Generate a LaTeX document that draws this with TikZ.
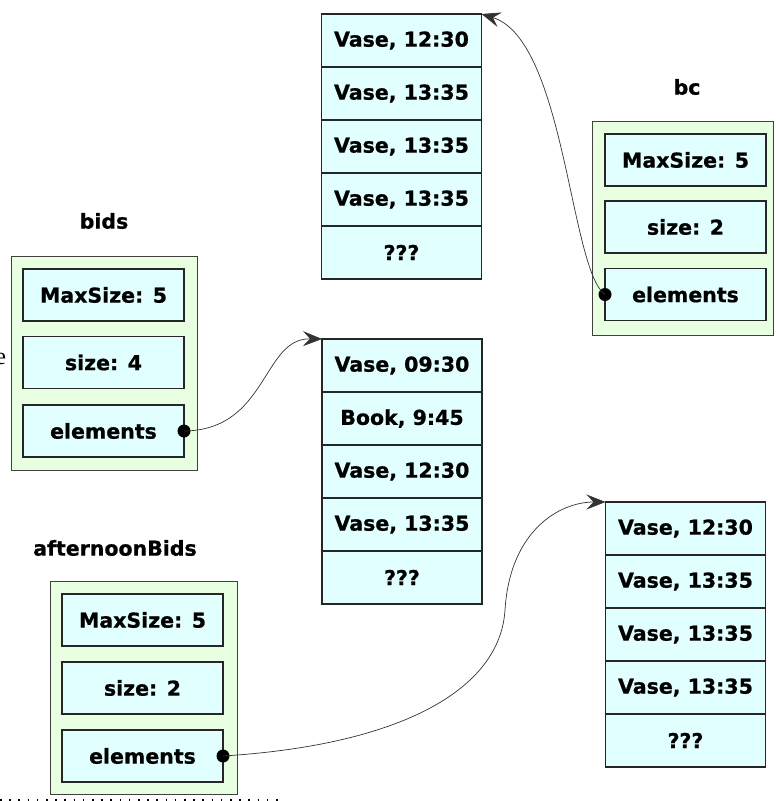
\documentclass[tikz,border=0pt]{standalone}
\usepackage{fontspec}
\setmainfont{DejaVu Sans}[BoldFeatures={FakeBold=0.8}]
\newfontfamily\timesfont{Liberation Serif}
\usetikzlibrary{arrows.meta}
\definecolor{objfill}{RGB}{232,255,226}
\definecolor{cellfill}{RGB}{226,255,255}
\tikzset{
  every node/.style={inner sep=0pt, outer sep=0pt},
  cell/.style={draw=black!85, line width=1.1pt, fill=cellfill,
    minimum width=160pt, minimum height=53pt,
    font=\fontsize{20.5}{24}\selectfont\bfseries},
  field/.style={cell, minimum width=161pt, minimum height=52pt},
  objbox/.style={draw=black!75, line width=1pt, fill=objfill},
  title/.style={font=\fontsize{20.5}{24}\selectfont\bfseries},
  ref/.style={line width=0.7pt, draw=black!80,
    -{Stealth[length=19pt,width=15pt,inset=7pt]}},
  refdot/.style={circle, fill=black, minimum size=13pt},
}
\begin{document}
\begin{tikzpicture}[x=1pt,y=-1pt]
\useasboundingbox (0,0) rectangle (776,801);

% partially visible word at the left margin
\node[anchor=east, font=\timesfont\fontsize{24}{28}\selectfont] (margintext) at (6,359) {e};

% ---- object: bids ----
\node[title] (bidsname) at (104,221) {bids};
\node[objbox, minimum width=186pt, minimum height=214pt] (bidsobj) at (104,363) {};
\node[field] (bmax)  at (103.5,295)   {MaxSize: 5};
\node[field] (bsize) at (103.5,362.5) {size: 4};
\node[field] (belem) at (103.5,431)   {elements};

% ---- object: bc ----
\node[title] (bcname) at (687,87) {bc};
\node[objbox, minimum width=181pt, minimum height=214pt] (bcobj) at (682.5,228) {};
\node[field] (cmax)  at (685.5,160)   {MaxSize: 5};
\node[field] (csize) at (685.5,227)   {size: 2};
\node[field] (celem) at (685.5,294.5) {elements};

% ---- object: afternoonBids ----
\node[title] (aname) at (115,548) {afternoonBids};
\node[objbox, minimum width=187pt, minimum height=213pt] (aobj) at (143.5,687.5) {};
\node[field] (amax)  at (142.5,620) {MaxSize: 5};
\node[field] (asize) at (142.5,688) {size: 2};
\node[field] (aelem) at (142.5,756) {elements};

% ---- array referenced by bc ----
\node[cell] (t1) at (401.5,40.5)  {Vase, 12:30};
\node[cell] (t2) at (401.5,93.5)  {Vase, 13:35};
\node[cell] (t3) at (401.5,146.5) {Vase, 13:35};
\node[cell] (t4) at (401.5,199.5) {Vase, 13:35};
\node[cell] (t5) at (401.5,252.5) {???};

% ---- array referenced by bids ----
\node[cell] (m1) at (402,365.5) {Vase, 09:30};
\node[cell] (m2) at (402,418.5) {Book, 9:45};
\node[cell] (m3) at (402,471.5) {Vase, 12:30};
\node[cell] (m4) at (402,524.5) {Vase, 13:35};
\node[cell] (m5) at (402,577.5) {???};

% ---- array referenced by afternoonBids ----
\node[cell] (r1) at (685.5,528.5) {Vase, 12:30};
\node[cell] (r2) at (685.5,581.5) {Vase, 13:35};
\node[cell] (r3) at (685.5,634.5) {Vase, 13:35};
\node[cell] (r4) at (685.5,687.5) {Vase, 13:35};
\node[cell] (r5) at (685.5,740.5) {???};

% ---- reference dots ----
\node[refdot] (bdot) at (belem.east) {};
\node[refdot] (cdot) at (celem.west) {};
\node[refdot] (adot) at (aelem.east) {};

% ---- references ----
\draw[ref] (bdot.center) .. controls (268,430) and (262,338) .. (m1.north west);
\draw[ref] (cdot.center) .. controls (570,270) and (565,40) .. (t1.north east);
\draw[ref] (adot.center) .. controls (400,745) and (500,690) .. (505,610)
                         .. controls (510,530) and (560,502) .. (r1.north west);

% dotted rule along the bottom
\coordinate (rulestart) at (0,800);
\coordinate (ruleend) at (282,800);
\draw[line width=1.6pt, dash pattern=on 1.6pt off 7.6pt] (rulestart) -- (ruleend);
\end{tikzpicture}
\end{document}
